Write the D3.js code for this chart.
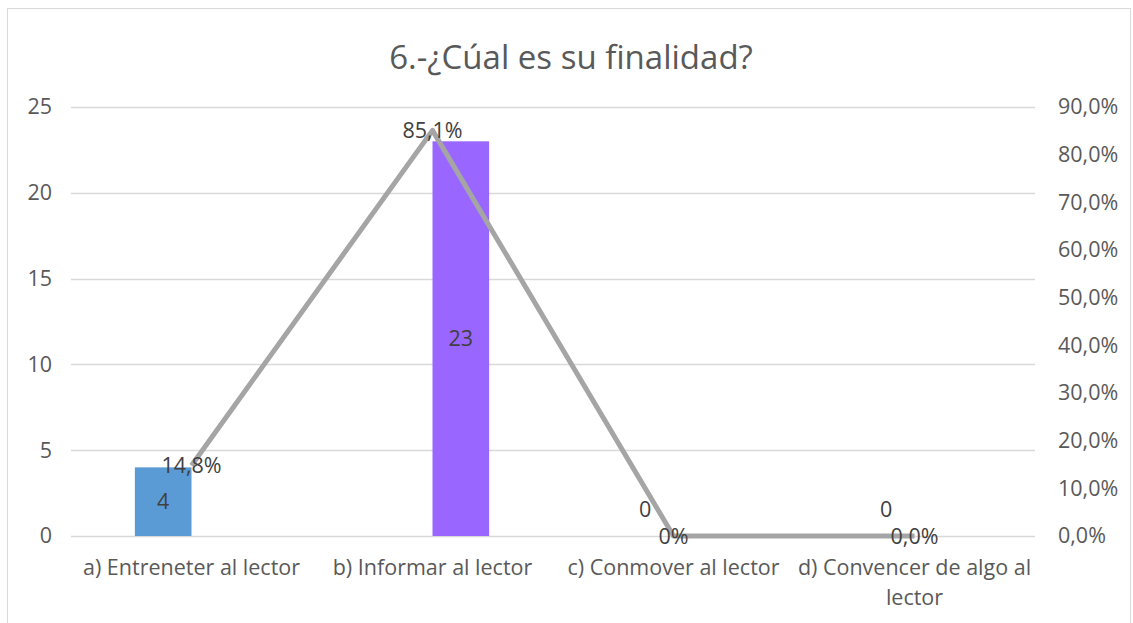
<!DOCTYPE html>
<html>
<head>
<meta charset="utf-8">
<script src="https://cdn.jsdelivr.net/npm/d3@7"></script>
<style>
  body { margin: 0; background: #fff; }
  text { font-family: "Open Sans", Lato, sans-serif; }
</style>
</head>
<body>
<svg id="chart"></svg>
<script>
// chart data
const categories = ["a) Entreneter al lector", "b) Informar al lector", "c) Conmover al lector", "d) Convencer de algo al lector"];
const seriesNames = ["s1", "s2"];
const seriesOne = [4, null, 0, 0];
const seriesTwo = [null, 23, null, null];
const barColors = ["#5B9BD5", "#9966FF"];
const percents = [0.148, 0.851, 0, 0];
const percentLabels = ["14,8%", "85,1%", "0%", "0,0%"];
const leftTicks = [0, 5, 10, 15, 20, 25];
const rightTicks = [0, 0.1, 0.2, 0.3, 0.4, 0.5, 0.6, 0.7, 0.8, 0.9];

const W = 1133, H = 623;
const margin = {top: 107, right: 98, bottom: 87, left: 71};
const width = W - margin.left - margin.right;
const height = H - margin.top - margin.bottom;
const fontFam = "'Open Sans', Lato, sans-serif";
const fs = 21.5;

const svg = d3.select("#chart").attr("width", W).attr("height", H);

// outer frame
svg.append("rect")
  .attr("x", 7.5).attr("y", 8.5)
  .attr("width", 1123).attr("height", 630)
  .attr("fill", "#fff").attr("stroke", "#D9D9D9");

svg.append("text")
  .attr("x", 571).attr("y", 69)
  .attr("text-anchor", "middle")
  .attr("font-size", 33)
  .attr("fill", "#595959")
  .text("6.-¿Cúal es su finalidad?");

const chart = svg.append("g")
  .attr("transform", `translate(${margin.left},${margin.top})`);

const x = d3.scaleBand().domain(categories).range([0, width]).padding(0);
const xSub = d3.scaleBand().domain(seriesNames)
  .range([x.bandwidth() * 0.265, x.bandwidth() * 0.735]).padding(0);
const y = d3.scaleLinear().domain([0, 25]).range([height, 0]);
const yRight = d3.scaleLinear().domain([0, 0.9]).range([height, 0]);

// gridlines
chart.append("g")
  .selectAll("line")
  .data(leftTicks)
  .join("line")
  .attr("x1", 0).attr("x2", width)
  .attr("y1", d => Math.round(y(d)) + 0.5).attr("y2", d => Math.round(y(d)) + 0.5)
  .attr("stroke", "#D9D9D9").attr("stroke-width", 1.3);

// left axis
const yAxis = chart.append("g")
  .call(d3.axisLeft(y).tickValues(leftTicks).tickSize(0).tickPadding(19));
yAxis.select(".domain").remove();
yAxis.selectAll("text").attr("font-size", fs).attr("fill", "#595959")
  .style("font-family", fontFam);

// right axis
const yAxisR = chart.append("g")
  .attr("transform", `translate(${width},0)`)
  .call(d3.axisRight(yRight).tickValues(rightTicks).tickSize(0).tickPadding(23)
    .tickFormat(d => d3.format(".1f")(d * 100).replace(".", ",") + "%"));
yAxisR.select(".domain").remove();
yAxisR.selectAll("text").attr("font-size", fs).attr("fill", "#595959")
  .style("font-family", fontFam);

// bottom labels
const xAxis = chart.append("g")
  .attr("transform", `translate(0,${height})`)
  .call(d3.axisBottom(x).tickSize(0).tickPadding(24));
xAxis.select(".domain").remove();
xAxis.selectAll("text").attr("font-size", fs).attr("fill", "#595959")
  .style("font-family", fontFam)
  .each(function(d) {
    const t = d3.select(this);
    if (d.startsWith("d)")) {
      t.text(null);
      t.append("tspan").attr("x", 0).attr("dy", "0.71em").text("d) Convencer de algo al");
      t.append("tspan").attr("x", 0).attr("dy", "1.37em").text("lector");
      t.attr("dy", null);
    }
  });

// bars
const seriesData = [seriesOne, seriesTwo];
const barRows = [];
seriesData.forEach((vals, si) => vals.forEach((v, i) => {
  if (v !== null) barRows.push({cat: categories[i], series: seriesNames[si], color: barColors[si], value: v});
}));

chart.append("g")
  .selectAll("rect")
  .data(barRows.filter(d => d.value > 0))
  .join("rect")
  .attr("x", d => x(d.cat) + xSub(d.series))
  .attr("y", d => y(d.value))
  .attr("width", xSub.bandwidth())
  .attr("height", d => height - y(d.value))
  .attr("fill", d => d.color);

// percentage line
const line = d3.line()
  .x((d, i) => x(categories[i]) + x.bandwidth() / 2)
  .y(d => yRight(d));

chart.append("path")
  .datum(percents)
  .attr("d", line)
  .attr("fill", "none")
  .attr("stroke", "#A5A5A5")
  .attr("stroke-width", 5)
  .attr("stroke-linejoin", "round");

// bar labels
chart.append("g")
  .selectAll("text")
  .data(barRows)
  .join("text")
  .attr("x", d => x(d.cat) + xSub(d.series) + xSub.bandwidth() / 2)
  .attr("y", d => Math.min(y(d.value / 2), y(0) - 27))
  .attr("dy", "0.35em")
  .attr("text-anchor", "middle")
  .attr("font-size", fs)
  .attr("fill", "#404040")
  .text(d => d.value);

// line labels
chart.append("g")
  .selectAll("text")
  .data(percents)
  .join("text")
  .attr("x", (d, i) => x(categories[i]) + x.bandwidth() / 2)
  .attr("y", d => yRight(d))
  .attr("dy", "0.35em")
  .attr("text-anchor", "middle")
  .attr("font-size", fs)
  .attr("fill", "#404040")
  .text((d, i) => percentLabels[i]);
</script>
</body>
</html>
